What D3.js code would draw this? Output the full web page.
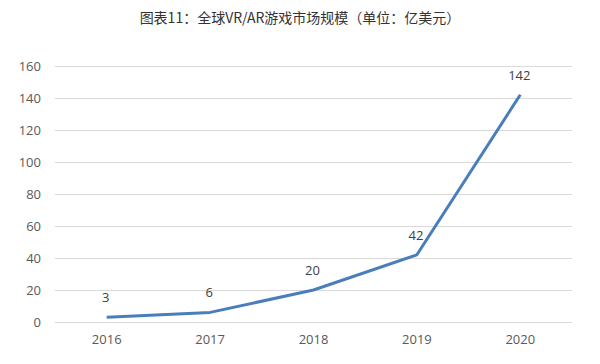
<!DOCTYPE html>
<html><head><meta charset="utf-8">
<script src="https://cdn.jsdelivr.net/npm/d3@7"></script>
<style>body{margin:0;background:#fff}</style>
</head><body>
<svg id="c" width="600" height="364"></svg>
<script>
const title = "图表11：全球VR/AR游戏市场规模（单位：亿美元）";
const years = ["2016","2017","2018","2019","2020"];
const values = [3, 6, 20, 42, 142];
const yTicks = [0,20,40,60,80,100,120,140,160];

(function(){
const svg = d3.select("#c");
const mLeft = 55, mRight = 572, mTop = 66, mBottom = 322;
const x = d3.scaleBand().domain(years).range([mLeft, mRight]);
const y = d3.scaleLinear().domain([0,160]).range([mBottom, mTop]);
const font = "'Open Sans', 'Noto Sans', sans-serif";

svg.append("text").attr("x", 300).attr("y", 23).attr("text-anchor","middle")
  .attr("font-family","'Noto Sans CJK SC', sans-serif").attr("font-size",14).attr("fill","#333")
  .text(title);

const ya = svg.append("g").attr("transform",`translate(${mLeft},0)`)
  .call(d3.axisLeft(y).tickValues(yTicks).tickSize(-(mRight-mLeft)).tickPadding(14));
ya.select(".domain").remove();
ya.selectAll(".tick line").attr("stroke","#d9d9d9").attr("stroke-width",1);
ya.selectAll(".tick text").attr("fill","#595959").attr("font-size",13).attr("font-family",font);

const xa = svg.append("g").attr("transform",`translate(0,${mBottom})`)
  .call(d3.axisBottom(x).tickSize(0).tickPadding(13));
xa.select(".domain").remove();
xa.selectAll(".tick text").attr("fill","#595959").attr("font-size",13).attr("font-family",font);

const cx = d => x(d) + x.bandwidth()/2;
const line = d3.line().x((d,i)=>cx(years[i])).y(d=>y(d));
svg.append("path").datum(values).attr("d", line).attr("fill","none")
  .attr("stroke","#4a7ebb").attr("stroke-width",3).attr("stroke-linejoin","round");

svg.selectAll(".lbl").data(values).enter().append("text")
  .attr("x",(d,i)=>cx(years[i]) - 1).attr("y",d=>y(d)-15)
  .attr("text-anchor","middle").attr("font-size",13).attr("font-family",font).attr("fill","#404040")
  .text(d=>d);
})();
</script>
</body></html>
